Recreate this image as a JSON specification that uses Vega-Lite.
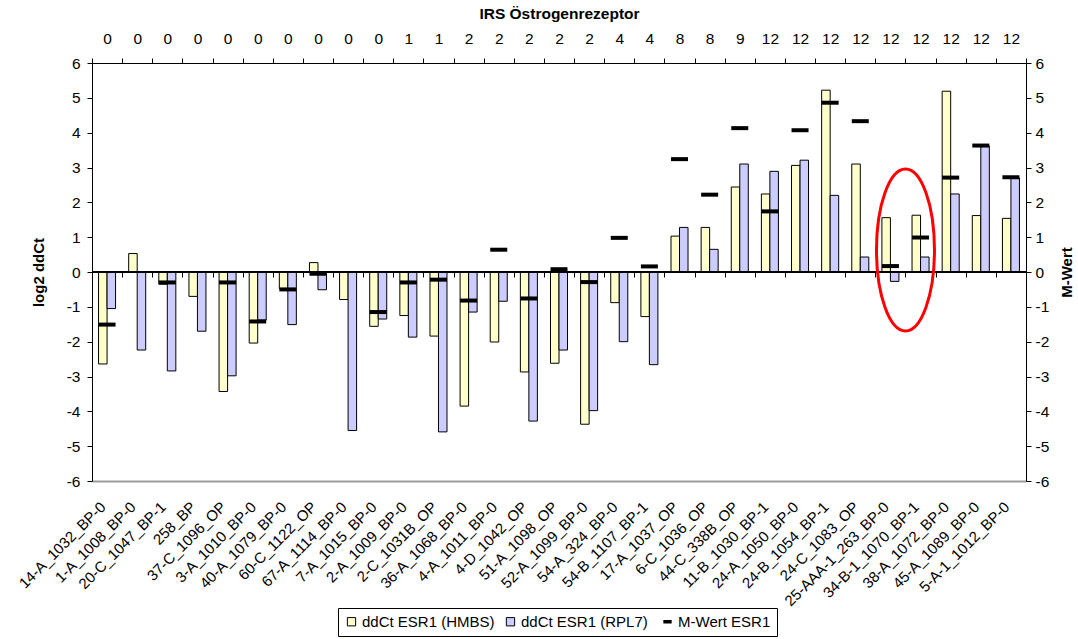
{
  "$schema": "https://vega.github.io/schema/vega-lite/v6.json",
  "width": 934,
  "height": 418,
  "autosize": {"type": "none"},
  "padding": {"left": 92, "top": 63, "right": 52, "bottom": 158},
  "config": {
    "font": "Liberation Sans",
    "view": {"stroke": null},
    "axis": {
      "grid": false,
      "labelFont": "Liberation Sans",
      "titleFont": "Liberation Sans",
      "labelColor": "#000000",
      "titleColor": "#000000",
      "domainColor": "#000000",
      "tickColor": "#000000",
      "labelFontSize": 15.5,
      "titleFontSize": 15,
      "titleFontWeight": "bold"
    }
  },
  "data": {
    "values": [
      {"probe": "14-A_1032_BP-0", "irs": 0, "hmbs": -2.64, "rpl7": -1.05, "mwert": -1.51},
      {"probe": "1-A_1008_BP-0", "irs": 0, "hmbs": 0.53, "rpl7": -2.24, "mwert": null},
      {"probe": "20-C_1047_BP-1", "irs": 0, "hmbs": -0.35, "rpl7": -2.84, "mwert": -0.30},
      {"probe": "258_BP", "irs": 0, "hmbs": -0.70, "rpl7": -1.70, "mwert": null},
      {"probe": "37-C_1096_OP", "irs": 0, "hmbs": -3.43, "rpl7": -2.98, "mwert": -0.30},
      {"probe": "3-A_1010_BP-0", "irs": 0, "hmbs": -2.04, "rpl7": -1.38, "mwert": -1.42},
      {"probe": "40-A_1079_BP-0", "irs": 0, "hmbs": -0.48, "rpl7": -1.51, "mwert": -0.50},
      {"probe": "60-C_1122_OP", "irs": 0, "hmbs": 0.27, "rpl7": -0.51, "mwert": -0.05},
      {"probe": "67-A_1114_BP-0", "irs": 0, "hmbs": -0.79, "rpl7": -4.55, "mwert": null},
      {"probe": "7-A_1015_BP-0", "irs": 0, "hmbs": -1.56, "rpl7": -1.35, "mwert": -1.15},
      {"probe": "2-A_1009_BP-0", "irs": 1, "hmbs": -1.25, "rpl7": -1.87, "mwert": -0.30},
      {"probe": "2-C_1031B_OP", "irs": 1, "hmbs": -1.84, "rpl7": -4.59, "mwert": -0.22},
      {"probe": "36-A_1068_BP-0", "irs": 2, "hmbs": -3.85, "rpl7": -1.15, "mwert": -0.82},
      {"probe": "4-A_1011_BP-0", "irs": 2, "hmbs": -2.01, "rpl7": -0.84, "mwert": 0.64},
      {"probe": "4-D_1042_OP", "irs": 2, "hmbs": -2.87, "rpl7": -4.28, "mwert": -0.76},
      {"probe": "51-A_1098_OP", "irs": 2, "hmbs": -2.62, "rpl7": -2.24, "mwert": 0.08},
      {"probe": "52-A_1099_BP-0", "irs": 2, "hmbs": -4.37, "rpl7": -3.98, "mwert": -0.29},
      {"probe": "54-A_324_BP-0", "irs": 4, "hmbs": -0.88, "rpl7": -2.00, "mwert": 0.98},
      {"probe": "54-B_1107_BP-1", "irs": 4, "hmbs": -1.28, "rpl7": -2.66, "mwert": 0.16},
      {"probe": "17-A_1037_OP", "irs": 8, "hmbs": 1.03, "rpl7": 1.28, "mwert": 3.24},
      {"probe": "6-C_1036_OP", "irs": 8, "hmbs": 1.28, "rpl7": 0.65, "mwert": 2.22},
      {"probe": "44-C_338B_OP", "irs": 9, "hmbs": 2.44, "rpl7": 3.10, "mwert": 4.13},
      {"probe": "11-B_1030_BP-1", "irs": 12, "hmbs": 2.24, "rpl7": 2.89, "mwert": 1.74},
      {"probe": "24-A_1050_BP-0", "irs": 12, "hmbs": 3.06, "rpl7": 3.21, "mwert": 4.07},
      {"probe": "24-B_1054_BP-1", "irs": 12, "hmbs": 5.22, "rpl7": 2.20, "mwert": 4.86},
      {"probe": "24-C_1083_OP", "irs": 12, "hmbs": 3.10, "rpl7": 0.43, "mwert": 4.33},
      {"probe": "25-AAA-1_263_BP-0", "irs": 12, "hmbs": 1.56, "rpl7": -0.27, "mwert": 0.17},
      {"probe": "34-B-1_1070_BP-1", "irs": 12, "hmbs": 1.63, "rpl7": 0.43, "mwert": 0.99},
      {"probe": "38-A_1072_BP-0", "irs": 12, "hmbs": 5.19, "rpl7": 2.24, "mwert": 2.71},
      {"probe": "45-A_1089_BP-0", "irs": 12, "hmbs": 1.62, "rpl7": 3.62, "mwert": 3.63},
      {"probe": "5-A-1_1012_BP-0", "irs": 12, "hmbs": 1.54, "rpl7": 2.70, "mwert": 2.72}
    ]
  },
  "transform": [
    {"calculate": "datum.probe + '|' + datum.irs", "as": "key"}
  ],
  "layer": [
    {
      "transform": [{"fold": ["hmbs", "rpl7"], "as": ["series", "value"]}],
      "mark": {"type": "bar", "stroke": "#000000", "strokeWidth": 1},
      "encoding": {
        "x": {
          "field": "key",
          "type": "nominal",
          "sort": null,
          "scale": {"padding": 0},
          "axis": {
            "orient": "bottom",
            "title": null,
            "labelExpr": "split(datum.value, '|')[0]",
            "labelAngle": -45,
            "labelFontSize": 15,
            "ticks": false,
            "domainColor": "#999999",
            "domainWidth": 2,
            "labelPadding": 18,
            "labelOffset": -9
          }
        },
        "xOffset": {
          "field": "series",
          "type": "nominal",
          "scale": {"domain": ["hmbs", "rpl7"], "paddingInner": 0, "paddingOuter": 0.77}
        },
        "y": {
          "field": "value",
          "type": "quantitative",
          "scale": {"domain": [-6, 6], "nice": false, "zero": false},
          "axis": {
            "orient": "left",
            "title": "log2 ddCt",
            "values": [-6, -5, -4, -3, -2, -1, 0, 1, 2, 3, 4, 5, 6],
            "labelExpr": "'' + datum.value",
            "tickSize": 5,
            "labelPadding": 7,
            "titlePadding": 20,
            "encode": {"ticks": {"update": {"x": {"value": 5}}}}
          }
        },
        "color": {
          "field": "series",
          "type": "nominal",
          "scale": {"domain": ["hmbs", "rpl7", "mwert"], "range": ["#FFFFCC", "#CCCCFF", "#000000"]},
          "legend": {
            "orient": "none",
            "legendX": 246,
            "legendY": 545,
            "direction": "horizontal",
            "title": null,
            "strokeColor": "#000000",
            "padding": 6,
            "labelFont": "Liberation Sans",
            "labelFontSize": 15,
            "labelColor": "#000000",
            "labelOffset": 3,
            "columnPadding": 8,
            "symbolSize": 69,
            "symbolStrokeColor": "#000000",
            "symbolStrokeWidth": 1,
            "symbolOpacity": 1,
            "labelExpr": "datum.value === 'hmbs' ? 'ddCt ESR1 (HMBS)' : datum.value === 'rpl7' ? 'ddCt ESR1 (RPL7)' : 'M-Wert ESR1'",
            "encode": {
              "symbols": {
                "update": {
                  "shape": {"signal": "datum.value === 'mwert' ? 'stroke' : 'square'"},
                  "strokeWidth": {"signal": "datum.value === 'mwert' ? 3.5 : 1"}
                }
              }
            }
          }
        }
      }
    },
    {
      "transform": [
        {"fold": ["mwert"], "as": ["series", "value"]},
        {"filter": "isValid(datum.value)"}
      ],
      "mark": {"type": "tick", "orient": "horizontal", "thickness": 4, "size": 17, "opacity": 1},
      "encoding": {
        "x": {
          "field": "key",
          "type": "nominal",
          "sort": null,
          "axis": {
            "orient": "top",
            "title": "IRS Östrogenrezeptor",
            "titleFontSize": 15.5,
            "titlePadding": 10,
            "labelExpr": "split(datum.value, '|')[1]",
            "labelAngle": 0,
            "labelPadding": 12,
            "tickBand": "extent",
            "tickSize": 5,
            "encode": {"ticks": {"update": {"y": {"value": 5}}}}
          }
        },
        "y": {
          "field": "value",
          "type": "quantitative",
          "axis": {
            "orient": "right",
            "title": "M-Wert",
            "titleAngle": 270,
            "titleBaseline": "top",
            "values": [-6, -5, -4, -3, -2, -1, 0, 1, 2, 3, 4, 5, 6],
            "labelExpr": "'' + datum.value",
            "tickSize": 5,
            "labelPadding": 4,
            "titlePadding": 11,
            "encode": {"ticks": {"update": {"x": {"value": -5}}}}
          }
        },
        "color": {"field": "series", "type": "nominal"}
      }
    },
    {
      "mark": {"type": "rule", "color": "#000000", "strokeWidth": 1},
      "encoding": {
        "y": {"datum": 0, "axis": null}
      }
    },
    {
      "transform": [{"filter": "datum.probe === '34-B-1_1070_BP-1'"}],
      "mark": {
        "type": "point",
        "shape": "M0,-1A0.358,1,0,1,1,0,1A0.358,1,0,1,1,0,-1Z",
        "size": 26244,
        "filled": false,
        "stroke": "#FF0000",
        "strokeWidth": 3,
        "opacity": 1
      },
      "encoding": {
        "x": {
          "field": "key",
          "type": "nominal",
          "sort": null,
          "bandPosition": 0,
          "axis": {
            "orient": "bottom",
            "offset": -209,
            "labels": false,
            "domain": false,
            "title": null,
            "tickBand": "extent",
            "tickSize": 5,
            "encode": {"ticks": {"update": {"y": {"value": -5}}}}
          }
        },
        "y": {"datum": 0.63, "axis": null}
      }
    }
  ],
  "resolve": {"axis": {"x": "independent", "y": "independent"}}
}
